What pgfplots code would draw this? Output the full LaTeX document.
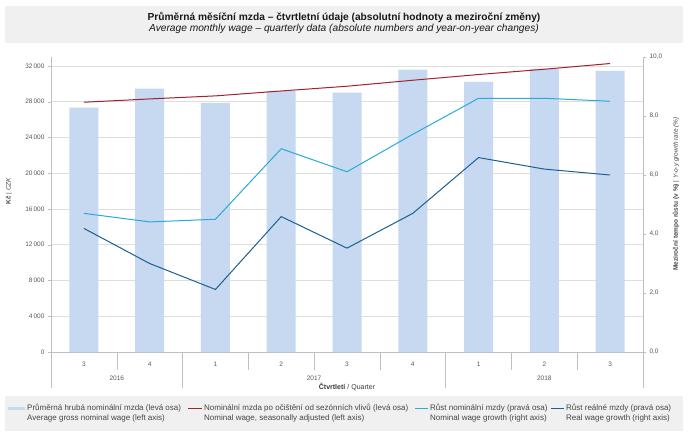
\documentclass[border=0pt]{standalone}
\usepackage{pgfplots}
\pgfplotsset{compat=1.18}
\usepackage{fontspec}
\setmainfont{Liberation Sans}
\definecolor{barcol}{RGB}{198,217,240}
\definecolor{redl}{RGB}{160,35,45}
\definecolor{lblue}{RGB}{41,170,218}
\definecolor{dblue}{RGB}{28,96,146}
\definecolor{gridc}{RGB}{222,222,222}
\definecolor{boxc}{RGB}{240,240,240}
\definecolor{txt}{RGB}{89,89,89}
\definecolor{legtxt}{RGB}{70,70,70}
\definecolor{axc}{RGB}{191,191,191}
\definecolor{ttl}{RGB}{25,25,25}
\newcommand{\tickfont}{\fontsize{6.5}{8}\selectfont}
\newcommand{\legfont}{\fontsize{8}{10}\selectfont}
\begin{document}
\begin{tikzpicture}
\fill[white] (0pt,0pt) rectangle (688pt,434pt);
\fill[boxc] (5pt,391pt) rectangle (683pt,428pt);
\fill[boxc] (5pt,3pt) rectangle (683pt,38pt);
\node[font=\bfseries\fontsize{10.2}{12}\selectfont, text=ttl] at (344pt,417pt) {Průměrná měsíční mzda – čtvrtletní údaje (absolutní hodnoty a meziroční změny)};
\node[font=\itshape\fontsize{10.2}{12}\selectfont, text=ttl] at (344pt,405pt) {Average monthly wage – quarterly data (absolute numbers and year-on-year changes)};
\node[rotate=90, font=\tickfont, text=ttl!80] at (9pt,243pt) {\textbf{Kč} | \textit{CZK}};
\node[rotate=90, font=\tickfont, text=ttl!80] at (676pt,240pt) {\textbf{Meziroční tempo růstu (v \%)} | \textit{Y-o-y growth rate (\%)}};

\begin{axis}[at={(51pt,82pt)}, anchor=south west, scale only axis,
  width=592pt, height=295pt,
  xmin=-0.5, xmax=8.5, ymin=0, ymax=33000, enlargelimits=false, clip=false,
  axis x line*=bottom, axis y line*=left,
  axis line style={draw=axc, -},
  ytick={0,4000,8000,12000,16000,20000,24000,28000,32000},
  scaled y ticks=false,
  ymajorgrids, grid style={draw=gridc, line width=0.6pt},
  xtick={0,1,2,3,4,5,6,7,8}, xticklabels={3,4,1,2,3,4,1,2,3},
  xtick style={draw=none}, ytick style={draw=axc},
  tick align=outside, major tick length=3pt,
  tick label style={font=\tickfont, text=txt},
  xticklabel style={yshift=-3pt},
  /pgf/number format/assume math mode=true,
  /pgf/number format/1000 sep={\,},
]
\addplot[ybar, bar width=29pt, fill=barcol, draw=none] coordinates {(0,27350) (1,29470) (2,27860) (3,29200) (4,29020) (5,31600) (6,30210) (7,31710) (8,31440)};
\addplot[redl, line width=1pt, mark=none] coordinates {(0,27940) (1,28310) (2,28650) (3,29200) (4,29730) (5,30400) (6,31040) (7,31630) (8,32270)};
\pgfplotsinvokeforeach{0.5,2.5,3.5,4.5,6.5,7.5}{\draw[axc] (axis cs:#1,0) -- ++(0pt,-18pt);}
\pgfplotsinvokeforeach{-0.5,1.5,5.5,8.5}{\draw[axc] (axis cs:#1,0) -- ++(0pt,-36pt);}
\node[font=\tickfont, text=txt, yshift=-26pt] at (axis cs:0.5,0) {2016};
\node[font=\tickfont, text=txt, yshift=-26pt] at (axis cs:3.5,0) {2017};
\node[font=\tickfont, text=txt, yshift=-26pt] at (axis cs:7,0) {2018};
\node[font=\fontsize{7}{8}\selectfont, text=ttl!85, yshift=-35pt] at (axis cs:4,0) {\textbf{Čtvrtletí} / Quarter};
\end{axis}

\begin{axis}[at={(51pt,82pt)}, anchor=south west, scale only axis,
  width=592pt, height=295pt,
  xmin=-0.5, xmax=8.5, ymin=0, ymax=10, enlargelimits=false,
  axis x line=none, axis y line*=right,
  axis line style={draw=axc, -},
  ytick={0,2,4,6,8,10}, ytick style={draw=axc},
  tick align=outside, major tick length=3pt,
  tick label style={font=\tickfont, text=txt},
  /pgf/number format/assume math mode=true,
  yticklabel style={/pgf/number format/.cd, fixed, fixed zerofill, precision=1, use comma},
]
\addplot[lblue, line width=1pt, mark=none] coordinates {(0,4.70) (1,4.41) (2,4.50) (3,6.89) (4,6.11) (5,7.38) (6,8.60) (7,8.60) (8,8.50)};
\addplot[dblue, line width=1pt, mark=none] coordinates {(0,4.19) (1,3.00) (2,2.12) (3,4.59) (4,3.52) (5,4.70) (6,6.59) (7,6.20) (8,6.00)};
\end{axis}

% legend
\draw[barcol, line width=3pt] (8pt,26pt) -- (25pt,26pt);
\node[anchor=north west, align=left, font=\legfont, text=legtxt, inner sep=0pt] at (27pt,30.5pt) {Průměrná hrubá nominální mzda (levá osa)\\Average gross nominal wage (left axis)};
\draw[redl, line width=1pt] (188pt,26pt) -- (202pt,26pt);
\node[anchor=north west, align=left, font=\legfont, text=legtxt, inner sep=0pt] at (204pt,30.5pt) {Nominální mzda po očištění od sezónních vlivů (levá osa)\\Nominal wage, seasonally adjusted (left axis)};
\draw[lblue, line width=1pt] (415pt,26pt) -- (428pt,26pt);
\node[anchor=north west, align=left, font=\legfont, text=legtxt, inner sep=0pt] at (430pt,30.5pt) {Růst nominální mzdy (pravá osa)\\Nominal wage growth (right axis)};
\draw[dblue, line width=1pt] (551pt,26pt) -- (564pt,26pt);
\node[anchor=north west, align=left, font=\legfont, text=legtxt, inner sep=0pt] at (566pt,30.5pt) {Růst reálné mzdy (pravá osa)\\Real wage growth (right axis)};
\end{tikzpicture}
\end{document}
